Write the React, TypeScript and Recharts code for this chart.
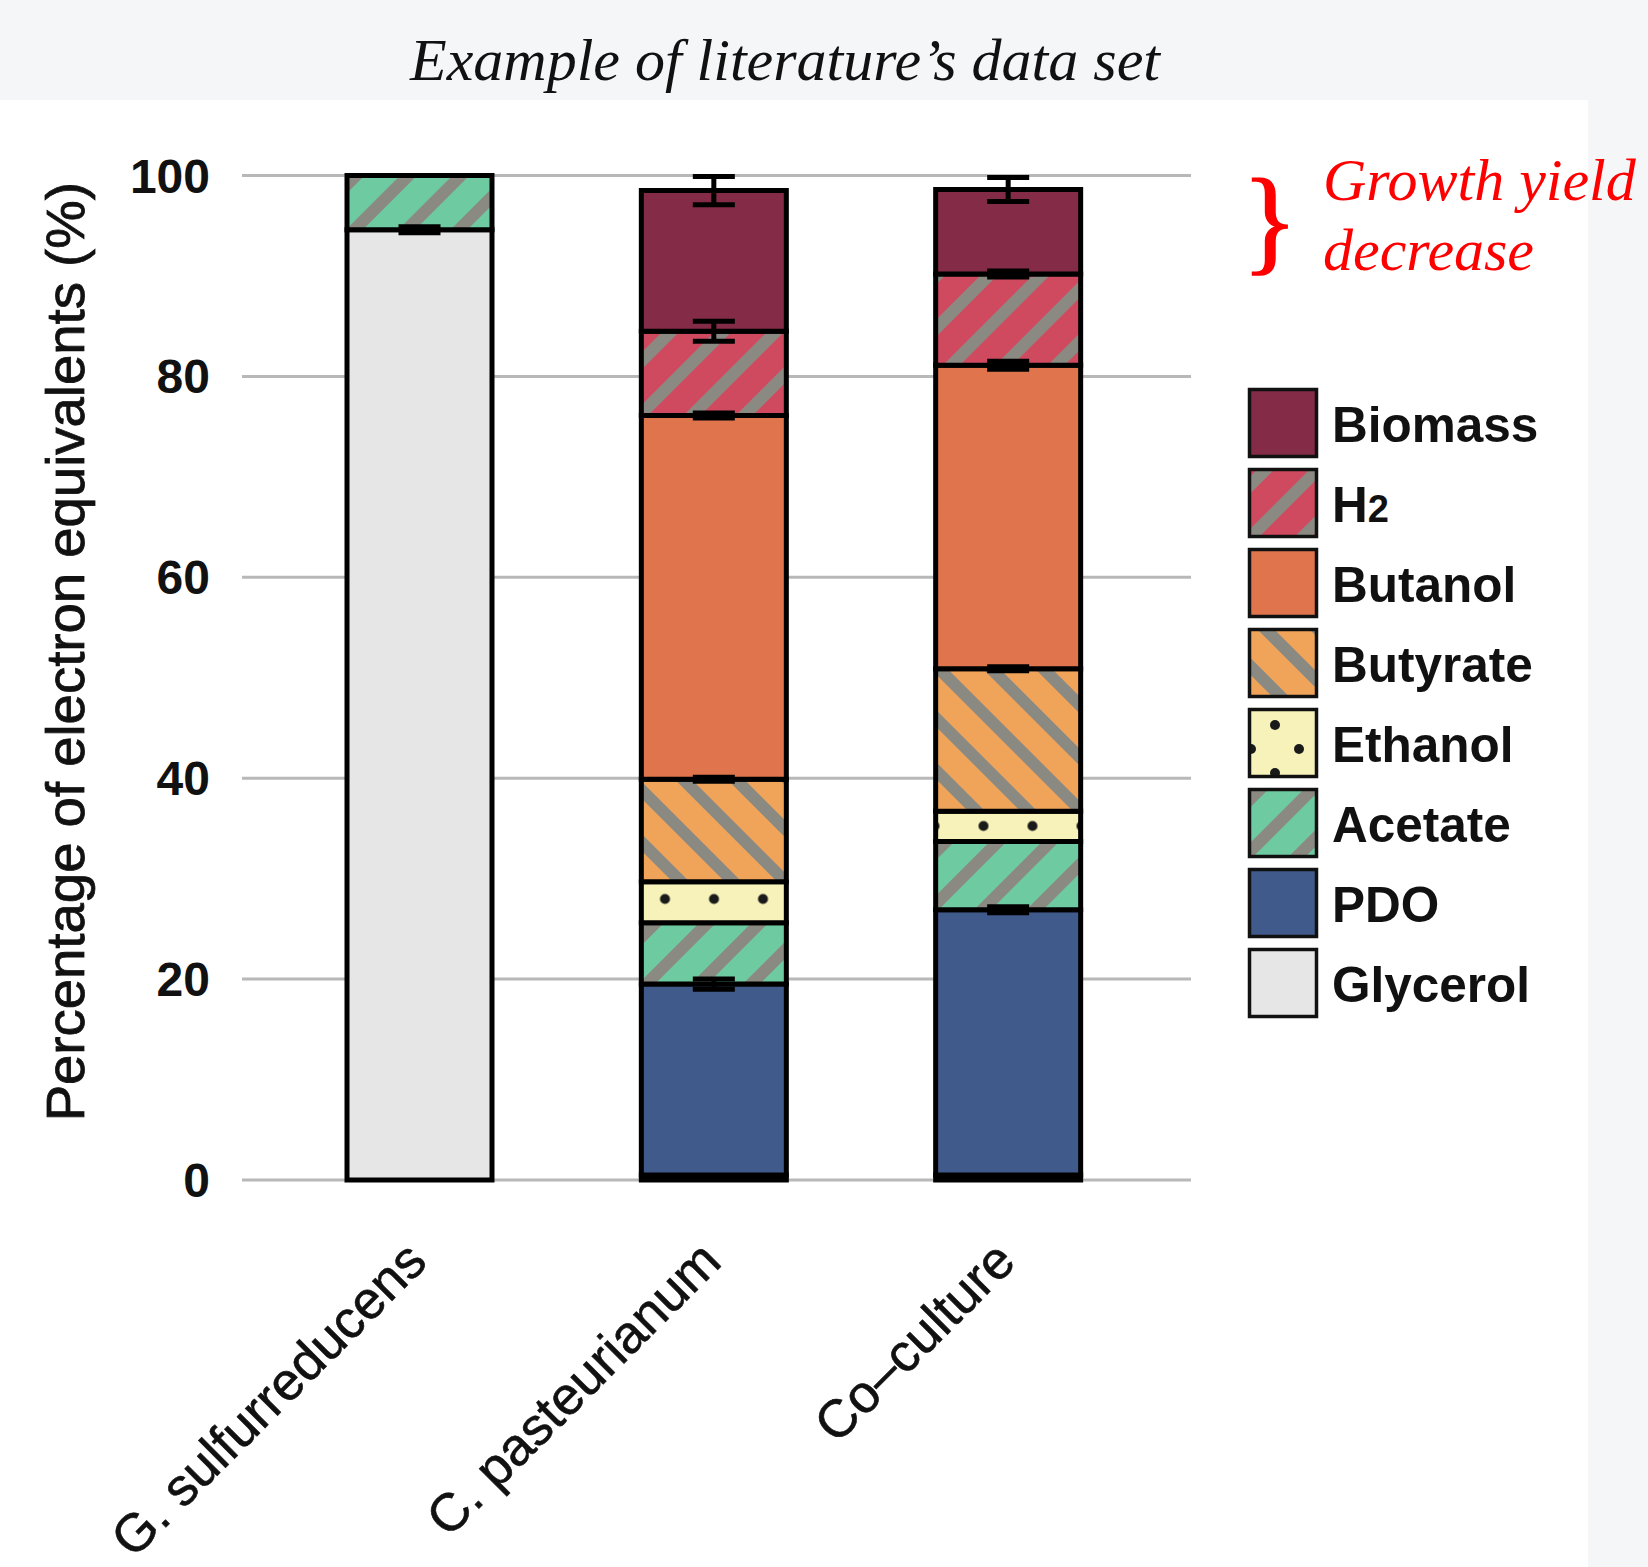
import React from 'react'
import { BarChart, Bar, XAxis, YAxis, CartesianGrid, ErrorBar } from 'recharts'

// categories and stacked values (% of electron equivalents), bottom to top
const categories = ['G. sulfurreducens', 'C. pasteurianum', 'Co–culture']
const glycerol = [94.6, 0.5, 0.5]
const pdo = [0, 19.0, 26.4]
const acetate = [5.4, 6.1, 6.8]
const ethanol = [0, 4.1, 3.0]
const butyrate = [0, 10.2, 14.2]
const butanol = [0, 36.2, 30.2]
const h2 = [0, 8.4, 9.1]
const biomass = [0, 14.0, 8.4]

// error bars (drawn at the top of each segment)
const glycerolErr = [0.3, null, null]
const pdoErr = [null, 0.5, 0.3]
const butyrateErr = [null, 0.2, 0.2]
const butanolErr = [null, 0.25, 0.4]
const h2Err = [null, 1.0, 0.3]
const biomassErr = [null, 1.4, 1.2]

const yTicks = [0, 20, 40, 60, 80, 100]

const data = categories.map((name, i) => ({
  name,
  glycerol: glycerol[i],
  pdo: pdo[i],
  acetate: acetate[i],
  ethanol: ethanol[i],
  butyrate: butyrate[i],
  butanol: butanol[i],
  h2: h2[i],
  biomass: biomass[i],
  glycerolErr: glycerolErr[i] ?? undefined,
  pdoErr: pdoErr[i] ?? undefined,
  butyrateErr: butyrateErr[i] ?? undefined,
  butanolErr: butanolErr[i] ?? undefined,
  h2Err: h2Err[i] ?? undefined,
  biomassErr: biomassErr[i] ?? undefined,
}))

const series = [
  { key: 'glycerol', label: 'Glycerol', fill: '#e6e6e6', err: 'glycerolErr' },
  { key: 'pdo', label: 'PDO', fill: '#405a8b', err: 'pdoErr' },
  { key: 'acetate', label: 'Acetate', fill: 'url(#p-acetate)', err: null },
  { key: 'ethanol', label: 'Ethanol', fill: 'url(#p-ethanol)', err: null },
  { key: 'butyrate', label: 'Butyrate', fill: 'url(#p-butyrate)', err: 'butyrateErr' },
  { key: 'butanol', label: 'Butanol', fill: '#e0744c', err: 'butanolErr' },
  { key: 'h2', label: 'H2', fill: 'url(#p-h2)', err: 'h2Err' },
  { key: 'biomass', label: 'Biomass', fill: '#842b47', err: 'biomassErr' },
]

const SANS = '"Liberation Sans", Arial, sans-serif'
const SERIF = '"Liberation Serif", "Times New Roman", serif'
const STRIPE = '#8a8a83'

const Stripes = ({ id, base, angle }: { id: string; base: string; angle: number }) => (
  <pattern id={id} patternUnits="userSpaceOnUse" width={37} height={37} patternTransform={`rotate(${angle})`}>
    <rect width={37} height={37} fill={base} />
    <rect width={12} height={37} fill={STRIPE} />
  </pattern>
)

const Patterns = ({ prefix, legend }: { prefix: string; legend?: boolean }) => (
  <defs>
    <Stripes id={`${prefix}acetate`} base="#6ecaa0" angle={45} />
    <Stripes id={`${prefix}h2`} base="#cf4a5e" angle={45} />
    <Stripes id={`${prefix}butyrate`} base="#f0a45a" angle={-45} />
    {legend ? (
      <pattern id={`${prefix}ethanol`} patternUnits="userSpaceOnUse" x={1251} y={701} width={48} height={48}>
        <rect width={48} height={48} fill="#f6f2b9" />
        {[[0, 0], [48, 0], [0, 48], [48, 48], [24, 24]].map(([cx, cy], i) => (
          <circle key={i} cx={cx} cy={cy} r={5} fill="#1a1a1a" />
        ))}
      </pattern>
    ) : (
      <pattern id={`${prefix}ethanol`} patternUnits="userSpaceOnUse" x={689.5} y={789.5} width={49} height={146}>
        <rect width={49} height={146} fill="#f6f2b9" />
        <circle cx={24.5} cy={109.5} r={5} fill="#1a1a1a" />
        <circle cx={0} cy={36.5} r={5} fill="#1a1a1a" />
        <circle cx={49} cy={36.5} r={5} fill="#1a1a1a" />
      </pattern>
    )}
  </defs>
)

const XTick = ({ x, y, payload }: any) => {
  const tx = x + 10
  const ty = y + 84
  return (
    <text
      x={tx}
      y={ty}
      transform={`rotate(-45 ${tx} ${ty})`}
      textAnchor="end"
      fontFamily={SANS}
      fontSize={53}
      fill="#111"
      stroke="#111"
      strokeWidth={0.6}
    >
      {payload.value}
    </text>
  )
}

const YLabel = ({ viewBox }: any) => {
  const tx = 84
  const ty = viewBox.y + viewBox.height / 2 - 26
  return (
    <text
      x={tx}
      y={ty}
      transform={`rotate(-90 ${tx} ${ty})`}
      textAnchor="middle"
      fontFamily={SANS}
      fontSize={54.5}
      fill="#111"
      stroke="#111"
      strokeWidth={0.8}
    >
      Percentage of electron equivalents (%)
    </text>
  )
}

const legendItems = [...series].reverse()

export default function App() {
  return (
    <div style={{ position: 'absolute', left: 0, top: 0, width: 1648, height: 1567, background: '#f4f6f8' }}>
      <div style={{ position: 'absolute', left: 0, top: 100, width: 1588, height: 1467, background: '#fff' }} />
      <div style={{ position: 'absolute', left: 0, top: 0 }}>
        <BarChart
          width={1648}
          height={1567}
          data={data}
          margin={{ top: 175.5, right: 457, bottom: 357, left: 0 }}
        >
          <Patterns prefix="p-" />
          <CartesianGrid vertical={false} stroke="#b8b8b8" strokeWidth={3} />
          <XAxis
            dataKey="name"
            height={30}
            padding={{ left: 30, right: 36 }}
            axisLine={false}
            tickLine={false}
            tickSize={0}
            tickMargin={0}
            interval={0}
            tick={<XTick />}
          />
          <YAxis
            width={242}
            domain={[0, 100]}
            ticks={yTicks}
            axisLine={false}
            tickLine={false}
            tickSize={0}
            tickMargin={32}
            tick={{ fontFamily: SANS, fontSize: 48, fontWeight: 700, fill: '#111' }}
            label={<YLabel />}
          />
          {series.map((s) => (
            <Bar
              key={s.key}
              dataKey={s.key}
              stackId="a"
              fill={s.fill}
              stroke="#000"
              strokeWidth={5}
              barSize={145}
              isAnimationActive={false}
            >
              {s.err && (
                <ErrorBar dataKey={s.err} width={21} stroke="#000" strokeWidth={5} isAnimationActive={false} />
              )}
            </Bar>
          ))}
        </BarChart>
      </div>
      <svg width={1648} height={1567} style={{ position: 'absolute', left: 0, top: 0, pointerEvents: 'none' }}>
        <Patterns prefix="lg-" legend />
        <text x={785} y={80} textAnchor="middle" fontFamily={SERIF} fontStyle="italic" fontSize={60} fill="#111">
          Example of literature’s data set
        </text>
        <text x={1242} y={259} fontFamily={SERIF} fontSize={116} fill="#f00" stroke="#f00" strokeWidth={1.5}>
          {'}'}
        </text>
        <text x={1323} y={200} fontFamily={SERIF} fontStyle="italic" fontSize={60} fill="#f00">
          Growth yield
        </text>
        <text x={1323} y={270} fontFamily={SERIF} fontStyle="italic" fontSize={60} fill="#f00">
          decrease
        </text>
        {legendItems.map((s, i) => {
          const top = 388 + i * 80
          const fill = s.fill.startsWith('url') ? `url(#lg-${s.key})` : s.fill
          return (
            <g key={s.key}>
              <rect x={1249.5} y={top + 1.5} width={67} height={67} fill={fill} stroke="#111" strokeWidth={3.5} />
              <text x={1332} y={top + 54} fontFamily={SANS} fontWeight={700} fontSize={49.5} fill="#111">
                {s.key === 'h2' ? (
                  <>
                    H<tspan fontSize={38}>2</tspan>
                  </>
                ) : (
                  s.label
                )}
              </text>
            </g>
          )
        })}
      </svg>
    </div>
  )
}
